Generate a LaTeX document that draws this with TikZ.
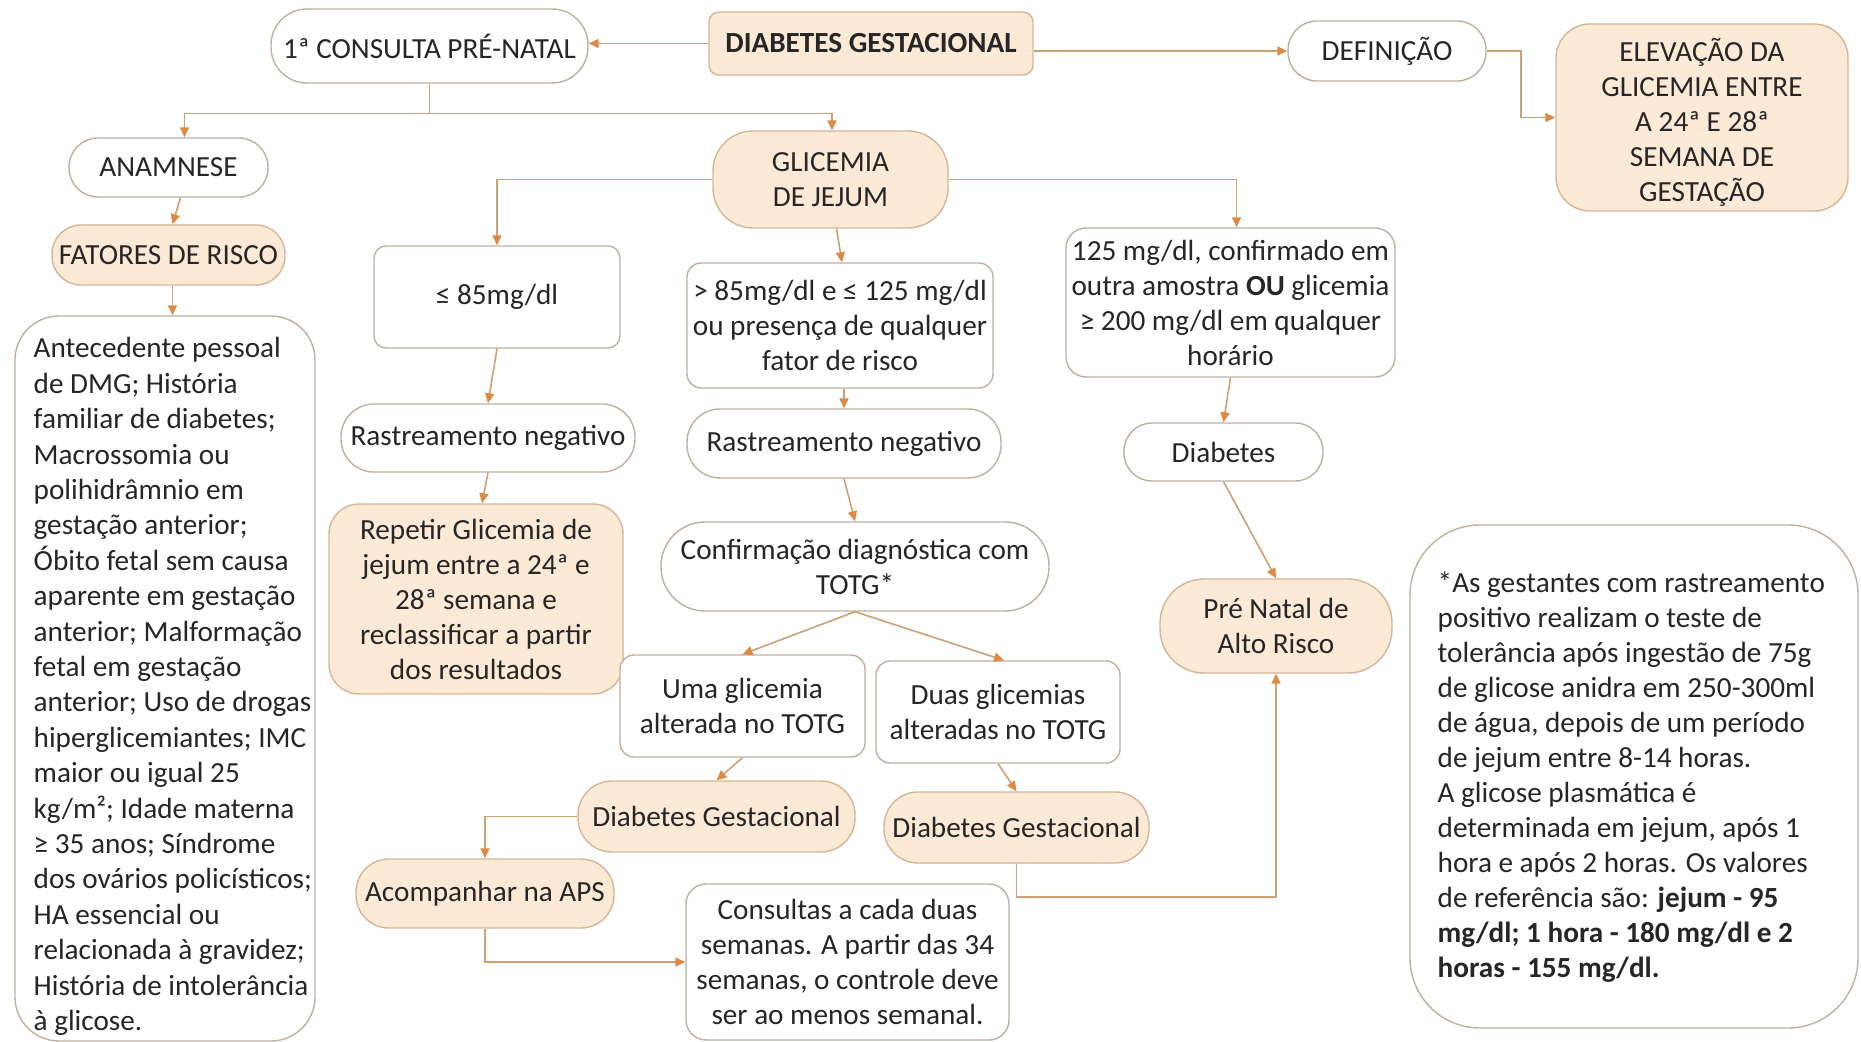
\documentclass[tikz,border=0pt]{standalone}
\usepackage{fontspec}
\setmainfont{Carlito}
\usetikzlibrary{arrows.meta}
\definecolor{beige}{RGB}{252,234,214}
\definecolor{wbord}{RGB}{190,176,162}
\definecolor{bbord}{RGB}{212,182,150}
\definecolor{linec}{RGB}{206,160,118}
\definecolor{tipc}{RGB}{220,138,68}
\newcommand{\nf}{\fontsize{14.6}{17.5}\selectfont}
\newcommand{\rf}{\fontsize{14.6}{17.7}\selectfont}
\begin{document}
\begin{tikzpicture}[x=0.5pt,y=-0.5pt,
 base/.style={line width=0.7pt, align=center, inner sep=0pt, font=\nf, text=black!85},
 wbox/.style={base, draw=wbord, fill=white},
 bbox/.style={base, draw=bbord, fill=beige},
 txt/.style={base, align=left, anchor=north west},
 arr/.style={draw=linec, line width=0.8pt, -{Triangle[length=5pt,width=4.5pt,color=tipc]}},
 ]
\useasboundingbox[fill=white] (0,0) rectangle (1861,1042);

\node[wbox, minimum width=158.5pt, minimum height=37pt, rounded corners=18pt] (cons) at (429.5,46) {1ª CONSULTA PRÉ-NATAL};
\node[bbox, minimum width=162pt, minimum height=31.5pt, rounded corners=5pt] (dg) at (871,43.5) {\textbf{DIABETES GESTACIONAL}};
\node[wbox, minimum width=99pt, minimum height=30pt, rounded corners=14.5pt] (def) at (1387,51) {DEFINIÇÃO};
\node[bbox, minimum width=146pt, minimum height=93.5pt, rounded corners=17pt] (elev) at (1702,117.5) {};
\node[base] (elevtxt) at (1702,122.5) {ELEVAÇÃO DA\\GLICEMIA ENTRE\\A 24ª E 28ª\\SEMANA DE\\GESTAÇÃO};
\node[wbox, minimum width=99.5pt, minimum height=29.5pt, rounded corners=14.5pt] (anam) at (168.5,167.5) {ANAMNESE};
\node[bbox, minimum width=116.5pt, minimum height=30pt, rounded corners=14.5pt] (fat) at (168.5,255) {FATORES DE RISCO};
\node[wbox, minimum width=150pt, minimum height=362.5pt, rounded corners=22pt] (risk) at (165,678.5) {};
\node[txt, font=\rf] (risktxt) at (33,337) {Antecedente pessoal\\de DMG; História\\familiar de diabetes;\\Macrossomia ou\\polihidrâmnio em\\gestação anterior;\\Óbito fetal sem causa\\aparente em gestação\\anterior; Malformação\\fetal em gestação\\anterior; Uso de drogas\\hiperglicemiantes; IMC\\maior ou igual 25\\kg/m²; Idade materna\\≥ 35 anos; Síndrome\\dos ovários policísticos;\\HA essencial ou\\relacionada à gravidez;\\História de intolerância\\à glicose.};
\node[bbox, minimum width=117.5pt, minimum height=48.5pt, rounded corners=20pt] (glic) at (830.5,179.5) {GLICEMIA\\DE JEJUM};
\node[wbox, minimum width=123pt, minimum height=51pt, rounded corners=6pt] (le85) at (497,297) {≤ 85mg/dl};
\node[wbox, minimum width=153pt, minimum height=62.5pt, rounded corners=7pt] (mid) at (840,325.5) {> 85mg/dl e ≤ 125 mg/dl\\ou presença de qualquer\\fator de risco};
\node[wbox, minimum width=164.5pt, minimum height=74.5pt, rounded corners=10pt] (d125) at (1230.5,302.5) {125 mg/dl, confirmado em\\outra amostra \textbf{OU} glicemia\\≥ 200 mg/dl em qualquer\\horário};
\node[wbox, minimum width=147pt, minimum height=34pt, rounded corners=16.5pt] (rn1) at (488,438) {Rastreamento negativo};
\node[wbox, minimum width=157pt, minimum height=34.5pt, rounded corners=16.5pt] (rn2) at (844,443.5) {Rastreamento negativo};
\node[wbox, minimum width=99.5pt, minimum height=29pt, rounded corners=14pt] (diab) at (1223.5,452) {Diabetes};
\node[bbox, minimum width=147pt, minimum height=95pt, rounded corners=15pt] (rep) at (476,599) {Repetir Glicemia de\\jejum entre a 24ª e\\28ª semana e\\reclassificar a partir\\dos resultados};
\node[wbox, minimum width=194pt, minimum height=44.5pt, rounded corners=22pt] (conf) at (855,566.5) {Confirmação diagnóstica com\\TOTG*};
\node[bbox, minimum width=116pt, minimum height=47pt, rounded corners=22pt] (pnar) at (1276,626) {Pré Natal de\\Alto Risco};
\node[wbox, minimum width=122.5pt, minimum height=51pt, rounded corners=7pt] (uma) at (742.5,706) {Uma glicemia\\alterada no TOTG};
\node[wbox, minimum width=122pt, minimum height=51pt, rounded corners=7pt] (duas) at (998,712) {Duas glicemias\\alteradas no TOTG};
\node[bbox, minimum width=138.5pt, minimum height=35.5pt, rounded corners=17pt] (dgl) at (716.5,816.5) {Diabetes Gestacional};
\node[bbox, minimum width=132.5pt, minimum height=35.5pt, rounded corners=17pt] (dgr) at (1016.5,827.5) {Diabetes Gestacional};
\node[bbox, minimum width=129pt, minimum height=34.5pt, rounded corners=16.5pt] (aps) at (485,893.5) {Acompanhar na APS};
\node[wbox, minimum width=161.5pt, minimum height=78pt, rounded corners=10pt] (cons2) at (847.5,962) {Consultas a cada duas\\semanas. A partir das 34\\semanas, o controle deve\\ser ao menos semanal.};
\node[wbox, minimum width=224pt, minimum height=251.5pt, rounded corners=35pt] (note) at (1634,776.5) {};
\node[txt] (notetxt) at (1437,571) {*As gestantes com rastreamento\\positivo realizam o teste de\\tolerância após ingestão de 75g\\de glicose anidra em 250-300ml\\de água, depois de um período\\de jejum entre 8-14 horas.\\A glicose plasmática é\\determinada em jejum, após 1\\hora e após 2 horas. Os valores\\de referência são: \textbf{jejum - 95}\\\textbf{mg/dl; 1 hora - 180 mg/dl e 2}\\\textbf{horas - 155 mg/dl.}};

\draw[arr] (dg.west) -- (dg.west -| cons.east);
\draw[arr] (dg.east |- def.west) -- (def.west);
\draw[arr] (def.east) -- ++(34,0) |- (elev.west);
\draw[arr] (cons.south) -- ++(0,30) -| ([xshift=8pt]anam.north);
\draw[arr] (cons.south) -- ++(0,30) -| ([xshift=0.75pt]glic.north);
\draw[arr] ([xshift=6pt]anam.south) -- ([xshift=2pt]fat.north);
\draw[arr] ([xshift=2pt]fat.south) -- ([xshift=2pt]fat.south |- risk.north);
\draw[arr] (glic.west) -| (le85.north);
\draw[arr] ([xshift=3pt]glic.south) -- ([xshift=1pt]mid.north);
\draw[arr] (glic.east) -| ([xshift=3pt]d125.north);
\draw[arr] (le85.south) -- (rn1.north);
\draw[arr] (rn1.south) -- ([xshift=3pt]rep.north);
\draw[arr] ([xshift=2pt]mid.south) -- (rn2.north);
\draw[arr] (rn2.south) -- (conf.north);
\draw[arr] (conf.south) -- (uma.north);
\draw[arr] (conf.south) -- ([xshift=3pt]duas.north);
\draw[arr] (uma.south) -- (dgl.north);
\draw[arr] (duas.south) -- (dgr.north);
\draw[arr] (dgl.west) -| (aps.north);
\draw[arr] (aps.south) |- (cons2.west);
\draw[arr] (dgr.south) -- ++(0,33) -| (pnar.south);
\draw[arr] (d125.south) -- (diab.north);
\draw[arr] (diab.south) -- (pnar.north);
\end{tikzpicture}
\end{document}
